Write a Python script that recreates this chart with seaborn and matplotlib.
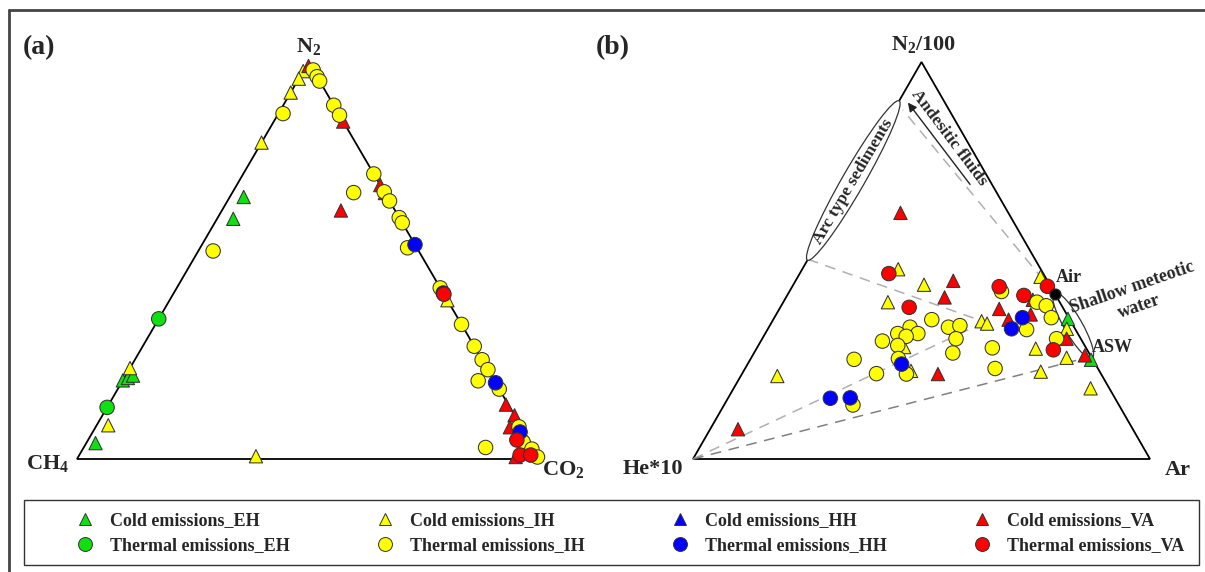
import numpy as np
import pandas as pd
import matplotlib
matplotlib.use("Agg")
import matplotlib.pyplot as plt
import seaborn as sns
from matplotlib.patches import Ellipse, Polygon, Rectangle, FancyArrowPatch
from matplotlib.lines import Line2D

sns.set_theme(style="white")
plt.rcParams['font.family'] = ['Liberation Serif', 'DejaVu Serif']
plt.rcParams['font.weight'] = 'bold'
plt.rcParams['mathtext.fontset'] = 'custom'
plt.rcParams['mathtext.rm'] = 'Liberation Serif:bold'
plt.rcParams['mathtext.it'] = 'Liberation Serif:bold'
plt.rcParams['mathtext.bf'] = 'Liberation Serif:bold'

# ---------------- data ----------------
groups = ["Cold emissions_EH", "Thermal emissions_EH",
          "Cold emissions_IH", "Thermal emissions_IH",
          "Cold emissions_HH", "Thermal emissions_HH",
          "Cold emissions_VA", "Thermal emissions_VA"]
group_colors = ["#10e010", "#10e010", "#ffff00", "#ffff00",
                "#0000ff", "#0000ff", "#ff0000", "#ff0000"]

# Panel (a): (CH4, CO2, N2) in %
a_cold_EH = [(31, 3, 66), (36, 3.5, 60.5), (80.2, 0, 19.8), (78.8, 0.8, 20.4),
             (77.4, 1.6, 21.0), (94, 2, 4)]
a_thermal_EH = [(64.7, 0, 35.3), (87, 0, 13)]
a_cold_IH = [(2.3, 0, 97.7), (4.2, 0, 95.8), (7.7, 0, 92.3), (20.3, 0, 79.7),
             (77.1, 0, 22.9), (89, 2.5, 8.5), (61, 38.3, 0.7), (0, 60, 40),
             (0.6, 98.4, 1.0)]
a_thermal_IH = [(0, 2, 98), (0, 3.7, 96.3), (0, 4.8, 95.2), (0, 10.9, 89.1),
                (0, 13.4, 86.6), (12, 1, 87), (0, 28.2, 71.8), (0, 32.7, 67.3),
                (0, 35, 65), (0, 39.2, 60.8), (0, 40.5, 59.5), (6.7, 26.2, 67.1),
                (44.4, 3.2, 52.4), (2, 44.8, 53.2), (0, 56.9, 43.1),
                (0, 66.1, 33.9), (0, 71.6, 28.4), (0, 75, 25), (0, 77.5, 22.5),
                (3.5, 76.8, 19.7), (0, 82.4, 17.6), (10.3, 86.8, 2.9),
                (0.5, 91.4, 8.1), (1.5, 94.2, 4.3), (0.5, 97, 2.5), (0.3, 99.2, 0.5)]
a_cold_HH = [(1.3, 96.9, 1.8)]
a_thermal_HH = [(0, 46, 54), (0, 58.2, 41.8), (0, 80.8, 19.2), (0.9, 92.3, 6.8)]
a_cold_VA = [(0.5, 0.5, 99), (0, 15, 85), (0, 31, 69), (0, 33, 67),
             (11.7, 25.7, 62.6), (0.5, 85.8, 13.7), (0, 89, 11), (2.5, 89.5, 8),
             (0.8, 95.2, 4.0), (3.6, 94.6, 1.8), (5, 94.5, 0.5)]
a_thermal_VA = [(0, 58.5, 41.5), (2.6, 92.6, 4.8), (3.8, 95.2, 1.0), (1.5, 97.5, 1.0)]

# Panel (b): (He*10, Ar, N2/100) in %
b_cold_EH = [(0.3, 64.4, 35.3), (0.4, 74.6, 25.0)]
b_thermal_EH = []
b_cold_IH = [(31.2, 21.0, 47.8), (27.5, 28.6, 43.9), (37.6, 22.9, 39.5),
             (1.0, 53.1, 45.9), (19.5, 45.8, 34.7), (18.6, 47.3, 34.1),
             (39.7, 32.1, 28.2), (41.2, 36.6, 22.2), (11.1, 61.1, 27.8),
             (5.5, 69.0, 25.5), (12.9, 65.1, 22.0), (1.8, 65.4, 32.8),
             (71.1, 8.0, 20.9), (4.1, 78.1, 17.8)]
b_thermal_IH = [(11.4, 46.4, 42.2), (5.0, 55.5, 39.5), (3.4, 58.0, 38.6),
                (3.8, 60.6, 35.6), (10.7, 56.7, 32.6), (5.3, 64.4, 30.3),
                (30.2, 34.7, 35.1), (27.5, 39.3, 33.2), (24.8, 41.6, 33.6),
                (27.3, 42.4, 30.3), (29.8, 43.5, 26.7), (20.5, 51.5, 28.0),
                (22.5, 54.7, 22.8), (35.9, 30.9, 33.2), (39.4, 29.0, 31.6),
                (35.0, 33.4, 31.6), (37.9, 31.2, 30.9), (43.7, 26.6, 29.7),
                (40.9, 30.5, 28.6), (42.4, 32.3, 25.3), (52.2, 22.7, 25.1),
                (49.1, 29.4, 21.5), (42.6, 36.0, 21.4), (58.2, 28.2, 13.6)]
b_cold_HH = []
b_thermal_HH = [(10.1, 54.3, 35.6), (13.9, 53.3, 32.8), (42.4, 33.7, 23.9),
                (62.3, 22.4, 15.3), (57.9, 26.7, 15.4)]
b_cold_VA = [(23.6, 14.4, 62.0), (20.6, 34.5, 44.9), (24.6, 34.7, 40.7),
             (14.1, 48.1, 37.8), (5.6, 54.3, 40.1), (7.9, 55.7, 36.4),
             (13.4, 51.5, 35.1), (3.1, 66.6, 30.3), (1.2, 72.7, 26.1),
             (35.7, 42.9, 21.4), (86.4, 6.1, 7.5)]
b_thermal_VA = [(33.8, 19.5, 46.7), (33.6, 28.2, 38.2), (11.3, 45.3, 43.4),
                (7.0, 51.8, 41.2), (0.7, 55.8, 43.5), (7.4, 65.1, 27.5)]

# reference compositions in panel (b): (He*10, Ar, N2/100)
air_point = (0, 58.5, 41.5)
asw_point = (0, 74.2, 25.8)
mix_point = (18.9, 46.6, 34.5)
sediment_low = (49.7, 0, 50.3)
sediment_high = (10.0, 0, 90.0)
andesitic_top = (10.1, 2.0, 87.9)
arrow_tail = (4.7, 26.7, 68.6)
arrow_tip = (8.2, 1.5, 90.6)
he_vertex = (100, 0, 0)

# ---------------- figure ----------------
FW, FH = 1205, 572
fig = plt.figure(figsize=(FW / 100, FH / 100), dpi=100)


def px_axes(x0, y_base, w, h):
    return fig.add_axes([x0 / FW, (FH - y_base) / FH, w / FW, h / FH])


def tern(p, W, H):
    l, r, t = p
    s = l + r + t
    return W * (r / s + 0.5 * t / s), H * t / s


def fig_text(x, y, s, **kw):
    fig.text(x / FW, 1 - y / FH, s, **kw)


WA, HA = 463, 397
WB, HB = 457, 397
ax_a = px_axes(77, 459, WA, HA)
ax_b = px_axes(693, 459, WB, HB)
for ax, W, H in ((ax_a, WA, HA), (ax_b, WB, HB)):
    ax.set_xlim(0, W)
    ax.set_ylim(0, H)
    ax.axis("off")
    ax.add_patch(Polygon([(0, 0), (W, 0), (W / 2, H)], closed=True, fill=False,
                         edgecolor="black", lw=1.3, zorder=1, clip_on=False))

marker_map = {g: ("^" if g.startswith("Cold") else "o") for g in groups}
color_map = dict(zip(groups, group_colors))

panel_a = [a_cold_EH, a_thermal_EH, a_cold_IH, a_thermal_IH,
           a_cold_HH, a_thermal_HH, a_cold_VA, a_thermal_VA]
panel_b = [b_cold_EH, b_thermal_EH, b_cold_IH, b_thermal_IH,
           b_cold_HH, b_thermal_HH, b_cold_VA, b_thermal_VA]


def make_df(panel, W, H):
    rows = []
    for g, pts in zip(groups, panel):
        for p in pts:
            x, y = tern(p, W, H)
            rows.append({"x": x, "y": y, "group": g})
    return pd.DataFrame(rows)


def draw_points(ax, df):
    for kind, size in (("Cold", 92), ("Thermal", 108)):
        sub = df[df["group"].str.startswith(kind)]
        if len(sub) == 0:
            continue
        sns.scatterplot(data=sub, x="x", y="y", hue="group", style="group",
                        markers=marker_map, palette=color_map, s=size,
                        edgecolor="#333333", linewidth=0.75, legend=False,
                        ax=ax, clip_on=False, zorder=4)
    ax.set_xlabel("")
    ax.set_ylabel("")


# ---- panel (b) guide lines, ellipses ----
def line(p, q, **kw):
    x1, y1 = tern(p, WB, HB)
    x2, y2 = tern(q, WB, HB)
    ax_b.plot([x1, x2], [y1, y2], clip_on=False, **kw)


line(he_vertex, mix_point, color="#b0b0b0", lw=1.1, ls=(0, (7, 5)), zorder=2)
line(sediment_low, mix_point, color="#b0b0b0", lw=1.1, ls=(0, (7, 5)), zorder=2)
line(he_vertex, asw_point, color="#808080", lw=1.1, ls=(0, (7, 5)), zorder=2)
line(air_point, andesitic_top, color="#b0b0b0", lw=1.1, ls=(0, (7, 5)), zorder=2)

tx, ty = tern(arrow_tail, WB, HB)
hx, hy = tern(arrow_tip, WB, HB)
ax_b.add_patch(FancyArrowPatch((tx, ty), (hx, hy), arrowstyle="-|>",
                               mutation_scale=13, color="#222222", lw=1.0,
                               zorder=3, clip_on=False))


def ellipse(p, q, extra, minor, face, z):
    x1, y1 = tern(p, WB, HB)
    x2, y2 = tern(q, WB, HB)
    length = np.hypot(x2 - x1, y2 - y1) + extra
    ang = np.degrees(np.arctan2(y2 - y1, x2 - x1))
    ax_b.add_patch(Ellipse(((x1 + x2) / 2, (y1 + y2) / 2), length, minor,
                           angle=ang, facecolor=face, edgecolor="#333333",
                           lw=0.9, zorder=z, clip_on=False))
    return ang


ellipse(sediment_low, sediment_high, 2, 22, "white", 2.5)
ellipse(air_point, asw_point, 4, 18, "none", 2.5)

draw_points(ax_a, make_df(panel_a, WA, HA))
draw_points(ax_b, make_df(panel_b, WB, HB))

axx, axy = tern(air_point, WB, HB)
ax_b.scatter([axx], [axy], s=60, color="black", edgecolor="#222222", zorder=5,
             clip_on=False)

tfs = 12.5
ax_b.text(363, 181, "Air", fontsize=13, fontweight="bold", ha="left",
          va="center", zorder=6)
ax_b.text(399, 111, "ASW", fontsize=13, fontweight="bold", ha="left",
          va="center", zorder=6)
ax_b.text(443, 162, "Shallow meteotic\nwater", fontsize=13, fontweight="bold",
          ha="center", va="center", rotation=19, multialignment="center",
          linespacing=1.3, rotation_mode="anchor", zorder=6)
ax_b.text(256, 321, "Andesitic fluids", fontsize=tfs, fontweight="bold",
          ha="center", va="center", rotation=-53, rotation_mode="anchor", zorder=6)
ax_b.text(160, 277.3, "Arc type sediments", fontsize=tfs, fontweight="bold",
          ha="center", va="center", rotation=59.5, rotation_mode="anchor", zorder=6)

# ---- labels ----
lfs = 16
fig_text(23, 54, "(a)", fontsize=20, fontweight="bold", ha="left", va="baseline")
fig_text(596, 54, "(b)", fontsize=20, fontweight="bold", ha="left", va="baseline")
fig_text(309, 52, "N$_2$", fontsize=lfs, ha="center", va="baseline")
fig_text(69, 469, "CH$_4$", fontsize=lfs, ha="right", va="baseline")
fig_text(542, 475, "CO$_2$", fontsize=lfs, ha="left", va="baseline")
fig_text(924, 50, "N$_2$/100", fontsize=lfs, ha="center", va="baseline")
fig_text(683, 474, "He*10", fontsize=lfs, fontweight="bold", ha="right", va="baseline")
fig_text(1165, 475, "Ar", fontsize=lfs, fontweight="bold", ha="left", va="baseline")

# ---- frames ----
fig.add_artist(Line2D([9 / FW, 1.0], [1 - 10 / FH, 1 - 10 / FH],
                      transform=fig.transFigure, color="#444444", lw=2.0))
fig.add_artist(Line2D([9 / FW, 9 / FW], [0, 1 - 10 / FH],
                      transform=fig.transFigure, color="#444444", lw=2.0))
fig.add_artist(Rectangle((24 / FW, (FH - 565) / FH), (1199 - 24) / FW, 65 / FH,
                         transform=fig.transFigure, fill=False,
                         edgecolor="#333333", lw=1.0))

# ---- legend ----
order = groups
handles = [Line2D([], [], linestyle="", marker=marker_map[g],
                  markerfacecolor=color_map[g], markeredgecolor="#333333",
                  markeredgewidth=0.7, markersize=9 if g.startswith("Cold") else 10)
           for g in order]
fig.legend(handles, order, ncol=4, loc="center left",
           bbox_to_anchor=(76 / FW, 1 - 533 / FH), frameon=False,
           prop={"family": "Liberation Serif", "weight": "bold", "size": 13},
           handlelength=1.0, handletextpad=0.9, columnspacing=4.75,
           borderpad=0, borderaxespad=0, labelspacing=0.45)

fig.savefig("out.png", dpi=100, facecolor="white")
